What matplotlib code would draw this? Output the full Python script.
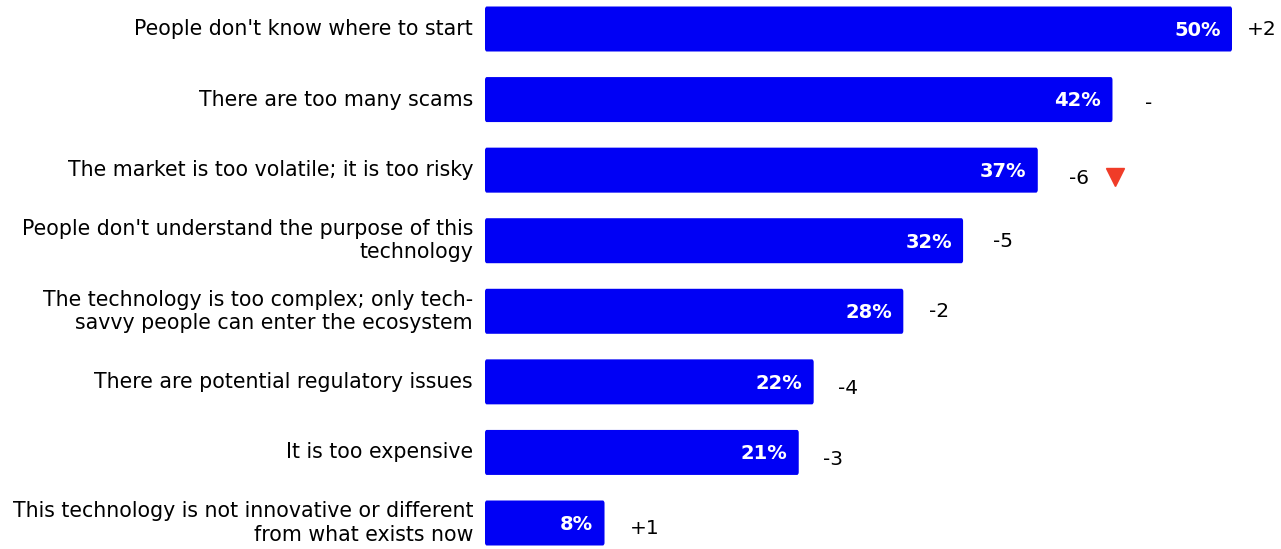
import matplotlib.pyplot as plt
from matplotlib.patches import FancyBboxPatch

plt.rcParams['font.family'] = ['DejaVu Sans']

reasons = [
    "People don't know where to start",
    "There are too many scams",
    "The market is too volatile; it is too risky",
    "People don't understand the purpose of this\ntechnology",
    "The technology is too complex; only tech-\nsavvy people can enter the ecosystem",
    "There are potential regulatory issues",
    "It is too expensive",
    "This technology is not innovative or different\nfrom what exists now",
]
shares = [50, 42, 37, 32, 28, 22, 21, 8]
changes = ["+2", "-", "-6", "-5", "-2", "-4", "-3", "+1"]

# spacing of the change labels after each bar end (in % units) and small vertical nudges (px)
change_gap = [1.0, 2.2, 2.1, 2.0, 1.7, 1.6, 1.6, 1.7]
change_dy = [0, -4, -8, -1, 0, -7, -7, -6]

fig = plt.figure(figsize=(12.81, 5.49), dpi=100)
ax = fig.add_axes([485 / 1281, 0, 796 / 1281, 1])
px_per_pct = 14.94
ax.set_xlim(0, 796 / px_per_pct)
step = 70.57
ax.set_ylim(7 + 26 / step, -29 / step)

blue = '#0000F5'
bar_h = 45 / step
for i, v in enumerate(shares):
    ax.add_patch(FancyBboxPatch((0, i - bar_h / 2), v, bar_h,
                                boxstyle="round,pad=0,rounding_size=0.12",
                                mutation_aspect=1 / px_per_pct * step / 14,
                                fc=blue, ec='none'))
    ax.text(v - 0.75, i + 0.02, f"{v}%", color='white', fontsize=14, fontweight='bold',
            ha='right', va='center')
    ax.annotate(changes[i], (v + change_gap[i], i), xytext=(0, change_dy[i]),
                textcoords='offset pixels', fontsize=14.5, ha='left', va='center')
    ax.text(-0.8, i, reasons[i], fontsize=14.8, ha='right', va='center',
            multialignment='right', linespacing=1.2)

# drop marker next to the biggest decline
ax.plot([42.2], [2.1], marker='v', color='#F03C28', markersize=13, ls='none')

ax.axis('off')
fig.savefig('out.png', dpi=100)
